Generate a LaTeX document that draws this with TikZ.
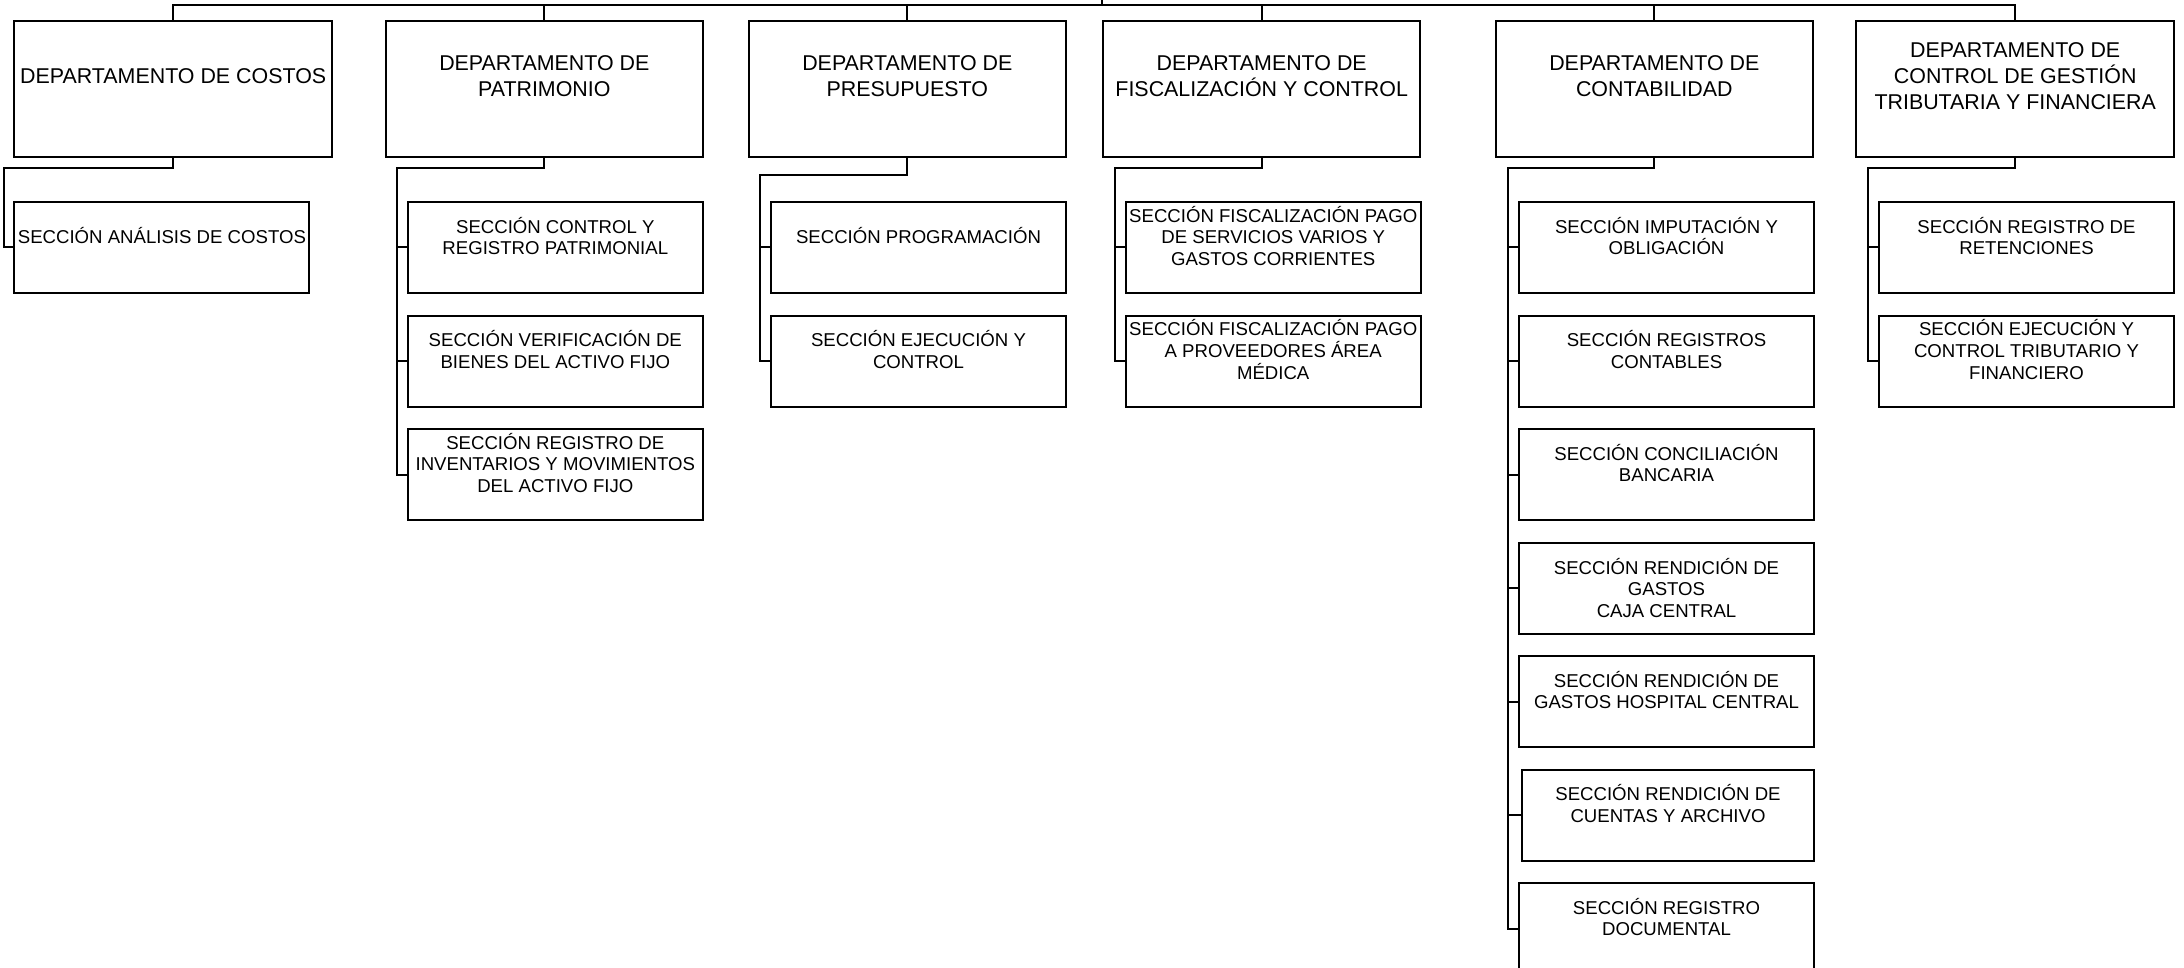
\documentclass[tikz,border=0pt]{standalone}
\usepackage{fontspec}
\setmainfont{Liberation Sans}
\usetikzlibrary{positioning}

\begin{document}
\begin{tikzpicture}[
		x=0.5pt, y=-0.5pt,
		node distance = 11.25pt,
		line width = 1pt,
		Dept/.style={draw, minimum width=158.75pt, minimum height=68pt,
			inner sep=0pt, outer sep=0pt},
		Sec/.style={draw, minimum width=147.5pt, minimum height=45.5pt,
			inner sep=0pt, outer sep=0pt, anchor=north west},
		DeptText/.style={align=center, inner sep=0pt,
			font=\fontsize{10.7}{12.85}\selectfont},
		SecText/.style={align=center, inner sep=0pt,
			font=\fontsize{9.3}{10.85}\selectfont},
		]
		\useasboundingbox (0,0) rectangle (2184,968);
		
		% departamentos
		\node [Dept] (costos) at (173.2,89) {};
		\node [DeptText] (costos-t) at ([yshift=6.5pt]costos.center) {DEPARTAMENTO DE COSTOS};
		\node [Dept] (patrimonio) at (544.3,89) {};
		\node [DeptText] (patrimonio-t) at ([yshift=6.5pt]patrimonio.center) {DEPARTAMENTO DE\\PATRIMONIO};
		\node [Dept] (presupuesto) at (907.3,89) {};
		\node [DeptText] (presupuesto-t) at ([yshift=6.5pt]presupuesto.center) {DEPARTAMENTO DE\\PRESUPUESTO};
		\node [Dept] (fiscal) at (1261.7,89) {};
		\node [DeptText] (fiscal-t) at ([yshift=6.5pt]fiscal.center) {DEPARTAMENTO DE\\FISCALIZACIÓN Y CONTROL};
		\node [Dept] (contab) at (1654.3,89) {};
		\node [DeptText] (contab-t) at ([yshift=6.5pt]contab.center) {DEPARTAMENTO DE\\CONTABILIDAD};
		\node [Dept] (control) at (2015.2,89) {};
		\node [DeptText] (control-t) at ([yshift=6.5pt]control.center) {DEPARTAMENTO DE\\CONTROL DE GESTIÓN\\TRIBUTARIA Y FINANCIERA};
		
		% secciones
		\node [Sec] (costos-1) at (14.4,202) {};
		\node [SecText] (costos-1t) at ([yshift=5.75pt]costos-1.center) {SECCIÓN ANÁLISIS DE COSTOS};
		
		\node [Sec] (patrimonio-1) at (407.8,202) {};
		\node [SecText] (patrimonio-1t) at ([yshift=5.75pt]patrimonio-1.center) {SECCIÓN CONTROL Y\\REGISTRO PATRIMONIAL};
		\node [Sec, below=of patrimonio-1] (patrimonio-2) {};
		\node [SecText] (patrimonio-2t) at ([yshift=5.75pt]patrimonio-2.center) {SECCIÓN VERIFICACIÓN DE\\BIENES DEL ACTIVO FIJO};
		\node [Sec, below=of patrimonio-2] (patrimonio-3) {};
		\node [SecText] (patrimonio-3t) at ([yshift=5.75pt]patrimonio-3.center) {SECCIÓN REGISTRO DE\\INVENTARIOS Y MOVIMIENTOS\\DEL ACTIVO FIJO};
		
		\node [Sec] (presupuesto-1) at (771,202) {};
		\node [SecText] (presupuesto-1t) at ([yshift=5.75pt]presupuesto-1.center) {SECCIÓN PROGRAMACIÓN};
		\node [Sec, below=of presupuesto-1] (presupuesto-2) {};
		\node [SecText] (presupuesto-2t) at ([yshift=5.75pt]presupuesto-2.center) {SECCIÓN EJECUCIÓN Y\\CONTROL};
		
		\node [Sec] (fiscal-1) at (1125.7,202) {};
		\node [SecText] (fiscal-1t) at ([yshift=5.75pt]fiscal-1.center) {SECCIÓN FISCALIZACIÓN PAGO\\DE SERVICIOS VARIOS Y\\GASTOS CORRIENTES};
		\node [Sec, below=of fiscal-1] (fiscal-2) {};
		\node [SecText] (fiscal-2t) at ([yshift=5.75pt]fiscal-2.center) {SECCIÓN FISCALIZACIÓN PAGO\\A PROVEEDORES ÁREA\\MÉDICA};
		
		\node [Sec] (contab-1) at (1519,202) {};
		\node [SecText] (contab-1t) at ([yshift=5.75pt]contab-1.center) {SECCIÓN IMPUTACIÓN Y\\OBLIGACIÓN};
		\node [Sec, below=of contab-1] (contab-2) {};
		\node [SecText] (contab-2t) at ([yshift=5.75pt]contab-2.center) {SECCIÓN REGISTROS\\CONTABLES};
		\node [Sec, below=of contab-2] (contab-3) {};
		\node [SecText] (contab-3t) at ([yshift=5.75pt]contab-3.center) {SECCIÓN CONCILIACIÓN\\BANCARIA};
		\node [Sec, below=of contab-3] (contab-4) {};
		\node [SecText] (contab-4t) at (contab-4.center) {SECCIÓN RENDICIÓN DE\\GASTOS\\CAJA CENTRAL};
		\node [Sec, below=of contab-4] (contab-5) {};
		\node [SecText] (contab-5t) at ([yshift=5.75pt]contab-5.center) {SECCIÓN RENDICIÓN DE\\GASTOS HOSPITAL CENTRAL};
		\node [Sec, below=of contab-5, minimum width=146pt, xshift=0.75pt] (contab-6) {};
		\node [SecText] (contab-6t) at ([yshift=5.75pt]contab-6.center) {SECCIÓN RENDICIÓN DE\\CUENTAS Y ARCHIVO};
		\node [Sec] (contab-7) at (1519,883) {};
		\node [SecText] (contab-7t) at ([yshift=5.75pt]contab-7.center) {SECCIÓN REGISTRO\\DOCUMENTAL};
		
		\node [Sec] (control-1) at (1879,202) {};
		\node [SecText] (control-1t) at ([yshift=5.75pt]control-1.center) {SECCIÓN REGISTRO DE\\RETENCIONES};
		\node [Sec, below=of control-1] (control-2) {};
		\node [SecText] (control-2t) at ([yshift=5.75pt]control-2.center) {SECCIÓN EJECUCIÓN Y\\CONTROL TRIBUTARIO Y\\FINANCIERO};
		
		% lineas
		\coordinate (top) at (1102,0);
		\coordinate (bus) at (1102,5.3);
		\draw (top) -- (bus);
		\draw (costos.north) |- (control.north |- bus) -- (control.north);
		\draw (patrimonio.north) -- (patrimonio.north |- bus);
		\draw (presupuesto.north) -- (presupuesto.north |- bus);
		\draw (fiscal.north) -- (fiscal.north |- bus);
		\draw (contab.north) -- (contab.north |- bus);
		
		\draw (costos.south) -- ++(0pt,-5.65pt) -| ([xshift=-5.4pt]costos-1.west) -- (costos-1.west);
		
		\draw (patrimonio.south) -- ++(0pt,-5.65pt) -| ([xshift=-5.4pt]patrimonio-3.west) -- (patrimonio-3.west);
		\draw (patrimonio-1.west) -- ++(-5.4pt,0pt);
		\draw (patrimonio-2.west) -- ++(-5.4pt,0pt);
		
		\draw (presupuesto.south) -- ++(0pt,-9pt) -| ([xshift=-5.4pt]presupuesto-2.west) -- (presupuesto-2.west);
		\draw (presupuesto-1.west) -- ++(-5.4pt,0pt);
		
		\draw (fiscal.south) -- ++(0pt,-5.65pt) -| ([xshift=-5.4pt]fiscal-2.west) -- (fiscal-2.west);
		\draw (fiscal-1.west) -- ++(-5.4pt,0pt);
		
		\draw (contab.south) -- ++(0pt,-5.65pt) -| ([xshift=-5.4pt]contab-7.west) -- (contab-7.west);
		\draw (contab-1.west) -- ++(-5.4pt,0pt);
		\draw (contab-2.west) -- ++(-5.4pt,0pt);
		\draw (contab-3.west) -- ++(-5.4pt,0pt);
		\draw (contab-4.west) -- ++(-5.4pt,0pt);
		\draw (contab-5.west) -- ++(-5.4pt,0pt);
		\draw (contab-6.west) -- ++(-6.9pt,0pt);
		
		\draw (control.south) -- ++(0pt,-5.65pt) -| ([xshift=-5.4pt]control-2.west) -- (control-2.west);
		\draw (control-1.west) -- ++(-5.4pt,0pt);
		
\end{tikzpicture}
\end{document}
